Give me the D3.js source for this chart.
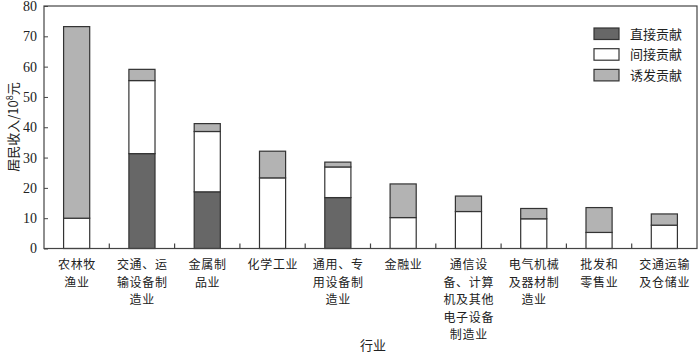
<!DOCTYPE html>
<html>
<head>
<meta charset="utf-8">
<script src="https://cdn.jsdelivr.net/npm/d3@7"></script>
<style>
  body { margin: 0; background: #fff; }
  svg { display: block; }
  .cn { font-family: "Noto Sans CJK SC", sans-serif; font-size: 13px; fill: #222; }
  .lab { font-family: "Noto Sans CJK SC", sans-serif; font-size: 12px; letter-spacing: 0.7px; fill: #222; }
  .num { font-family: "Liberation Serif", "DejaVu Serif", serif; font-size: 14px; fill: #222; }
</style>
</head>
<body>
<div id="chart"></div>
<script>
// 行业 (each label split into its lines)
var categories = [
    ["农林牧", "渔业"],
    ["交通、运", "输设备制", "造业"],
    ["金属制", "品业"],
    ["化学工业"],
    ["通用、专", "用设备制", "造业"],
    ["金融业"],
    ["通信设", "备、计算", "机及其他", "电子设备", "制造业"],
    ["电气机械", "及器材制", "造业"],
    ["批发和", "零售业"],
    ["交通运输", "及仓储业"]
];

var direct   = [0, 31.3, 18.7, 0, 16.8, 0, 0, 0, 0, 0];
var indirect = [10.0, 24.1, 19.9, 23.3, 10.1, 10.2, 12.2, 9.8, 5.3, 7.7];
var induced  = [63.2, 3.7, 2.6, 8.8, 1.6, 11.1, 5.1, 3.4, 8.2, 3.7];

var seriesNames = ["直接贡献", "间接贡献", "诱发贡献"];
var seriesColors = ["#676767", "#ffffff", "#b3b3b3"];
var yTicks = [0, 10, 20, 30, 40, 50, 60, 70, 80];

function draw() {
    var width = 700, height = 353;
    var mLeft = 44, mRight = 697, mTop = 6, mBottom = 248.5;

    var svg = d3.select("#chart").append("svg")
        .attr("width", width)
        .attr("height", height);

    var x = d3.scaleBand()
        .domain(d3.range(categories.length))
        .range([mLeft, mRight])
        .paddingInner(0.6)
        .paddingOuter(0.3);

    var y = d3.scaleLinear()
        .domain([0, 80])
        .range([mBottom, mTop]);

    var rows = categories.map(function(c, i) {
        return { i: i, direct: direct[i], indirect: indirect[i], induced: induced[i] };
    });

    var layers = d3.stack().keys(["direct", "indirect", "induced"])(rows);

    // bars
    var g = svg.append("g");
    layers.forEach(function(layer, k) {
        g.append("g").selectAll("rect")
            .data(layer.filter(function(d) { return d[1] - d[0] > 0; }))
            .enter().append("rect")
            .attr("x", function(d) { return x(d.data.i); })
            .attr("y", function(d) { return y(d[1]); })
            .attr("width", x.bandwidth())
            .attr("height", function(d) { return y(d[0]) - y(d[1]); })
            .attr("fill", seriesColors[k])
            .attr("stroke", "#333")
            .attr("stroke-width", 1.2);
    });

    // frame
    svg.append("rect")
        .attr("x", mLeft)
        .attr("y", mTop)
        .attr("width", mRight - mLeft)
        .attr("height", mBottom - mTop)
        .attr("fill", "none")
        .attr("stroke", "#444")
        .attr("stroke-width", 1.2);

    // y axis, ticks inside
    var yAxis = svg.append("g")
        .attr("transform", "translate(" + mLeft + ",0)")
        .call(d3.axisLeft(y).tickValues(yTicks).tickSizeInner(-4).tickSizeOuter(0).tickPadding(7));
    yAxis.select(".domain").remove();
    yAxis.selectAll(".tick line").attr("stroke", "#444");
    yAxis.selectAll("text").attr("class", "num").attr("fill", null);
    yAxis.attr("font-size", null).attr("font-family", null);

    // x ticks between categories
    var step = (mRight - mLeft) / categories.length;
    svg.append("g").selectAll("line")
        .data(d3.range(1, categories.length))
        .enter().append("line")
        .attr("x1", function(d) { return mLeft + d * step; })
        .attr("x2", function(d) { return mLeft + d * step; })
        .attr("y1", mBottom)
        .attr("y2", mBottom - 5)
        .attr("stroke", "#444")
        .attr("stroke-width", 1.2);

    // x labels, one text per line
    var lines = [];
    categories.forEach(function(c, i) {
        c.forEach(function(s, j) { lines.push({ i: i, j: j, s: s }); });
    });
    svg.append("g").selectAll("text")
        .data(lines)
        .enter().append("text")
        .attr("class", "lab")
        .attr("text-anchor", "middle")
        .attr("x", function(d) { return x(d.i) + x.bandwidth() / 2 + 0.35; })
        .attr("y", function(d) { return 269 + d.j * 17.5; })
        .text(function(d) { return d.s; });

    // axis titles
    svg.append("text")
        .attr("class", "cn")
        .attr("text-anchor", "middle")
        .attr("x", 373)
        .attr("y", 350)
        .text("行业");

    var yt = svg.append("text")
        .attr("class", "cn")
        .attr("text-anchor", "middle")
        .attr("transform", "translate(18,127) rotate(-90)");
    yt.append("tspan").text("居民收入/10");
    yt.append("tspan").attr("dy", -5).style("font-size", "9px").text("8");
    yt.append("tspan").attr("dy", 5).text("元");

    // legend
    var lg = svg.append("g").selectAll("g")
        .data(seriesNames)
        .enter().append("g")
        .attr("transform", function(d, i) { return "translate(594," + (28 + i * 20.7) + ")"; });
    lg.append("rect")
        .attr("width", 25)
        .attr("height", 11.5)
        .attr("fill", function(d, i) { return seriesColors[i]; })
        .attr("stroke", "#333")
        .attr("stroke-width", 1.2);
    lg.append("text")
        .attr("class", "cn")
        .attr("x", 36)
        .attr("y", 10.5)
        .text(function(d) { return d; });
}
draw();
</script>
</body>
</html>
